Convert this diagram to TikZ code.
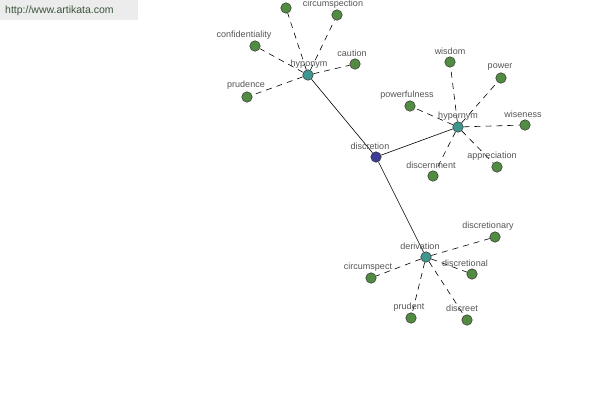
\documentclass[tikz,border=0pt]{standalone}
\usepackage{fontspec}
\setmainfont{Liberation Sans}
\usetikzlibrary{backgrounds}
\definecolor{leafc}{RGB}{82,140,66}
\definecolor{hubc}{RGB}{62,150,142}
\definecolor{rootc}{RGB}{58,60,150}
\definecolor{labc}{RGB}{85,85,85}
\definecolor{wmbg}{RGB}{236,236,236}
\definecolor{wmtx}{RGB}{60,85,60}
\tikzset{
  leaf/.style={circle,draw=black!80,line width=0.5pt,fill=leafc,minimum size=10.5pt,inner sep=0pt},
  hub/.style={circle,draw=black!80,line width=0.5pt,fill=hubc,minimum size=10.5pt,inner sep=0pt},
  root/.style={circle,draw=black!80,line width=0.5pt,fill=rootc,minimum size=10.5pt,inner sep=0pt},
  lab/.style={font=\fontsize{9}{10}\selectfont,text=labc,inner sep=0pt},
  solidedge/.style={draw=black,line width=0.6pt},
  dashedge/.style={draw=black,line width=0.6pt,dash pattern=on 6pt off 5pt},
}
\begin{document}
\begin{tikzpicture}[x=1pt,y=-1pt]
\useasboundingbox (0,0) rectangle (600,400);
% hubs
\node[root] (discretion) at (376,157) {};
\node[hub] (hyponym) at (308,75) {};
\node[hub] (hypernym) at (458,127) {};
\node[hub] (derivation) at (426,257) {};
% leaves
\node[leaf] (l0) at (286,8) {};
\node[leaf] (circumspection) at (337,15) {};
\node[leaf] (confidentiality) at (255,46) {};
\node[leaf] (caution) at (355,64) {};
\node[leaf] (prudence) at (247,97) {};
\node[leaf] (wisdom) at (450,62) {};
\node[leaf] (power) at (501,78) {};
\node[leaf] (powerfulness) at (410,106) {};
\node[leaf] (wiseness) at (525,125) {};
\node[leaf] (appreciation) at (497,167) {};
\node[leaf] (discernment) at (433,176) {};
\node[leaf] (discretionary) at (495,237) {};
\node[leaf] (discretional) at (472,274) {};
\node[leaf] (circumspect) at (371,278) {};
\node[leaf] (prudent) at (411,318) {};
\node[leaf] (discreet) at (467,320) {};
\begin{scope}[on background layer]
\fill[white] (0,0) rectangle (600,400);
\draw[solidedge] (discretion) -- (hyponym);
\draw[solidedge] (discretion) -- (hypernym);
\draw[solidedge] (discretion) -- (derivation);
\foreach \l in {l0,circumspection,confidentiality,caution,prudence}
  \draw[dashedge] (hyponym) -- (\l);
\foreach \l in {wisdom,power,powerfulness,wiseness,appreciation,discernment}
  \draw[dashedge] (hypernym) -- (\l);
\foreach \l in {discretionary,discretional,circumspect,prudent,discreet}
  \draw[dashedge] (derivation) -- (\l);
\end{scope}
\node[fill=wmbg,minimum width=138pt,minimum height=20pt,anchor=north west,inner sep=0pt] (wm) at (0,0) {};
\node[font=\fontsize{10.5}{12}\selectfont,text=wmtx,anchor=west,inner sep=0pt] (wmt) at (5,11) {http://www.artikata.com};
% labels
\node[lab] (tdiscretion) at (370,146) {discretion};
\node[lab] (thyponym) at (309,64) {hyponym};
\node[lab] (thypernym) at (458,116) {hypernym};
\node[lab] (tderivation) at (420,246) {derivation};
\node[lab] (tcircumspection) at (333,4.5) {circumspection};
\node[lab] (tconfidentiality) at (244,35) {confidentiality};
\node[lab] (tcaution) at (352,53) {caution};
\node[lab] (tprudence) at (246,85) {prudence};
\node[lab] (twisdom) at (450,51) {wisdom};
\node[lab] (tpower) at (500,67) {power};
\node[lab] (tpowerfulness) at (407,95) {powerfulness};
\node[lab] (twiseness) at (523,114) {wiseness};
\node[lab] (tappreciation) at (492,156) {appreciation};
\node[lab] (tdiscernment) at (431,165) {discernment};
\node[lab] (tdiscretionary) at (488,226) {discretionary};
\node[lab] (tdiscretional) at (465,263) {discretional};
\node[lab] (tcircumspect) at (368,267) {circumspect};
\node[lab] (tprudent) at (409,307) {prudent};
\node[lab] (tdiscreet) at (462,308) {discreet};
\end{tikzpicture}
\end{document}
